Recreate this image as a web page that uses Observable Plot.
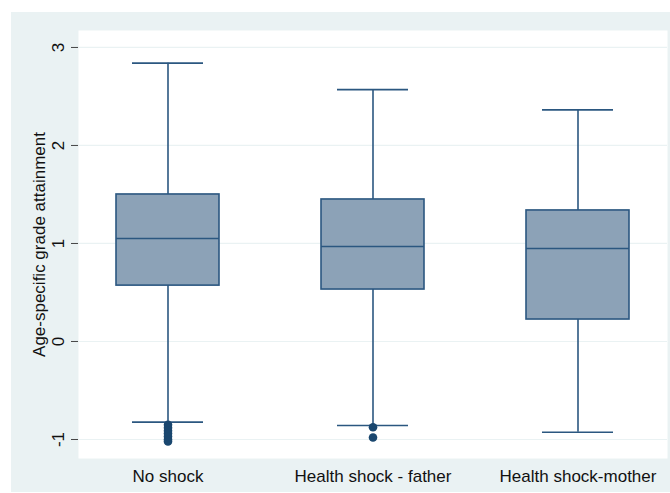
<!DOCTYPE html>
<html>
<head>
<meta charset="utf-8">
<script src="https://cdn.jsdelivr.net/npm/d3@7"></script>
<script src="https://cdn.jsdelivr.net/npm/@observablehq/plot@0.6"></script>
<style>
  html, body { margin: 0; padding: 0; background: #ffffff; }
  #wrap { position: relative; width: 670px; height: 493px; overflow: hidden; }
  #bg { position: absolute; left: 11px; top: 12px; width: 659px; height: 480px; background: #eaf2f3; }
  #chart { position: absolute; left: 0; top: 0; }
  #chart svg { background: transparent !important; }
  #chart svg text { font-family: 'Liberation Sans', Arial, sans-serif !important; }
</style>
</head>
<body>
<div id="wrap"><div id="bg"></div><div id="chart"></div></div>
<script>
const categories = ["No shock", "Health shock - father", "Health shock-mother"];
const lowerWhisker = [-0.823, -0.857, -0.926];
const q1 = [0.57, 0.53, 0.224];
const median = [1.05, 0.969, 0.949];
const q3 = [1.50, 1.449, 1.337];
const upperWhisker = [2.84, 2.57, 2.363];
const outlierGroup = ["No shock", "No shock", "No shock", "No shock", "No shock", "No shock", "No shock",
                      "Health shock - father", "Health shock - father"];
const outlierValue = [-0.85, -0.88, -0.91, -0.94, -0.97, -1.00, -1.02, -0.875, -0.98];
const yTicks = [-1, 0, 1, 2, 3];
const yLabel = "Age-specific grade attainment";

const boxes = categories.map((c, i) => ({
  cat: c, lo: lowerWhisker[i], q1: q1[i], med: median[i], q3: q3[i], hi: upperWhisker[i]
}));
const outliers = outlierGroup.map((c, i) => ({cat: c, v: outlierValue[i]}));

const navy = "#1a476f";
const edge = "#2b5780";
const fillC = "#8ca2b7";
const font = "'Liberation Sans', Arial, sans-serif";

const chart = Plot.plot({
  width: 670,
  height: 493,
  marginLeft: 78,
  marginRight: 3,
  marginTop: 30,
  marginBottom: 35,
  style: {fontFamily: font, fontSize: "17px", color: "#111", background: "transparent"},
  x: {type: "band", domain: categories, paddingInner: 0.5, paddingOuter: 0.183, axis: null},
  y: {domain: [-1.194, 3.173], axis: null},
  marks: [
    Plot.frame({fill: "white", stroke: null}),
    Plot.gridY(yTicks, {stroke: "#eaf2f3", strokeOpacity: 1, strokeWidth: 1.2}),
    Plot.ruleX(boxes, {x: "cat", y1: "lo", y2: "hi", stroke: edge, strokeWidth: 1.6}),
    Plot.tickY(boxes, {x: "cat", y: "hi", stroke: edge, strokeWidth: 1.6, inset: 16}),
    Plot.tickY(boxes, {x: "cat", y: "lo", stroke: edge, strokeWidth: 1.6, inset: 16}),
    Plot.barY(boxes, {x: "cat", y1: "q1", y2: "q3", fill: fillC, stroke: edge, strokeWidth: 1.6}),
    Plot.tickY(boxes, {x: "cat", y: "med", stroke: edge, strokeWidth: 1.6}),
    Plot.dot(outliers, {x: "cat", y: "v", r: 4.3, fill: navy, stroke: null}),
    Plot.axisY({ticks: yTicks, tickSize: 7, tickFormat: () => "", label: null, line: true, stroke: "#444", strokeWidth: 1}),
    Plot.axisX({tickSize: 0, label: null, line: true, stroke: "#444", tickPadding: 11, fontSize: 17, fill: "#111"}),
    Plot.text(yTicks, {y: d => d, text: d => String(d), frameAnchor: "left", dx: -20, rotate: -90,
                       textAnchor: "middle", fontSize: 17, fill: "#111"}),
    Plot.text([yLabel], {frameAnchor: "left", dx: -39, rotate: -90, textAnchor: "middle",
                         fontSize: 17, fill: "#111"})
  ]
});
document.getElementById("chart").appendChild(chart);
</script>
</body>
</html>
